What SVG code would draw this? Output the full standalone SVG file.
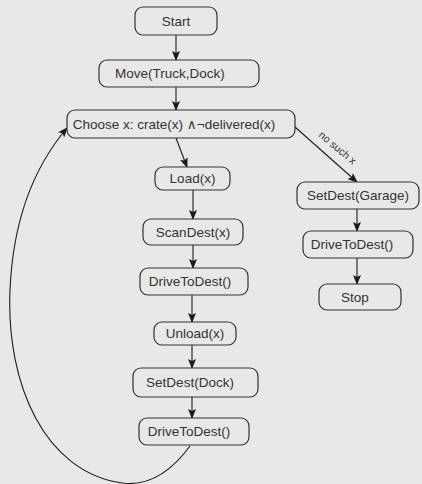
<svg xmlns="http://www.w3.org/2000/svg" width="422" height="484" viewBox="0 0 422 484">
<defs>
<marker id="ah" markerWidth="10" markerHeight="8" refX="9" refY="4" orient="auto" markerUnits="userSpaceOnUse">
<path d="M0,0 L10,4 L0,8 L2,4 Z" fill="#1a1a1a"/>
</marker>
<style>
.n rect{fill:#e8e8e8;stroke:#333;stroke-width:1.2}
.n text{font-family:"Liberation Sans","DejaVu Sans",sans-serif;font-size:13.5px;fill:#333;text-anchor:middle;dominant-baseline:central}
.c path,.c line{stroke:#1a1a1a;stroke-width:1.1;fill:none;marker-end:url(#ah)}
.lbl{font-family:"Liberation Sans","DejaVu Sans",sans-serif;font-size:10.5px;fill:#333}
</style>
</defs>
<rect width="422" height="484" fill="#e8e8e8"/>
<g class="c">
<line x1="176" y1="35" x2="176" y2="60"/>
<line x1="176" y1="87" x2="176" y2="110"/>
<line x1="176" y1="138" x2="187" y2="167"/>
<line x1="193" y1="190" x2="193" y2="219"/>
<line x1="193" y1="245" x2="193" y2="268"/>
<line x1="192" y1="295" x2="192" y2="322"/>
<line x1="192" y1="345" x2="192" y2="368"/>
<line x1="192" y1="397" x2="192" y2="418"/>
<line x1="295" y1="127" x2="357" y2="182"/>
<line x1="357" y1="209" x2="357" y2="231"/>
<line x1="357" y1="258" x2="357" y2="284"/>
<path d="M190,446 C168,476 145,486 122,483 C45,472 6,385 10,290 C13,220 33,168 67,128"/>
<text class="lbl" transform="translate(318,136) rotate(40)">no such x</text>
</g>
<g id="start" class="n"><rect x="135" y="7" width="82" height="28" rx="8"/><text x="176" y="21">Start</text></g>
<g id="move" class="n"><rect x="99" y="60" width="160" height="27" rx="8"/><text x="170" y="73.5">Move(Truck,Dock)</text></g>
<g id="choose" class="n"><rect x="67" y="110" width="228" height="28" rx="8"/><text x="174" y="124">Choose x: crate(x) ∧¬delivered(x)</text></g>
<g id="load" class="n"><rect x="155" y="167" width="75" height="23" rx="8"/><text x="192.5" y="178.5">Load(x)</text></g>
<g id="scandest" class="n"><rect x="143" y="219" width="100" height="26" rx="8"/><text x="193" y="232">ScanDest(x)</text></g>
<g id="drive1" class="n"><rect x="140" y="268" width="108" height="27" rx="8"/><text x="190" y="281.5">DriveToDest()</text></g>
<g id="unload" class="n"><rect x="154" y="322" width="82" height="23" rx="8"/><text x="195" y="333.5">Unload(x)</text></g>
<g id="setdock" class="n"><rect x="133" y="368" width="125" height="29" rx="8"/><text x="190" y="382.5">SetDest(Dock)</text></g>
<g id="drive2" class="n"><rect x="139" y="418" width="110" height="27" rx="8"/><text x="189" y="431.5">DriveToDest()</text></g>
<g id="setgarage" class="n"><rect x="297" y="182" width="122" height="27" rx="8"/><text x="358" y="195.5">SetDest(Garage)</text></g>
<g id="drive3" class="n"><rect x="303" y="231" width="110" height="27" rx="8"/><text x="352" y="244.5">DriveToDest()</text></g>
<g id="stop" class="n"><rect x="319" y="284" width="82" height="26" rx="8"/><text x="355" y="297">Stop</text></g>
</svg>
